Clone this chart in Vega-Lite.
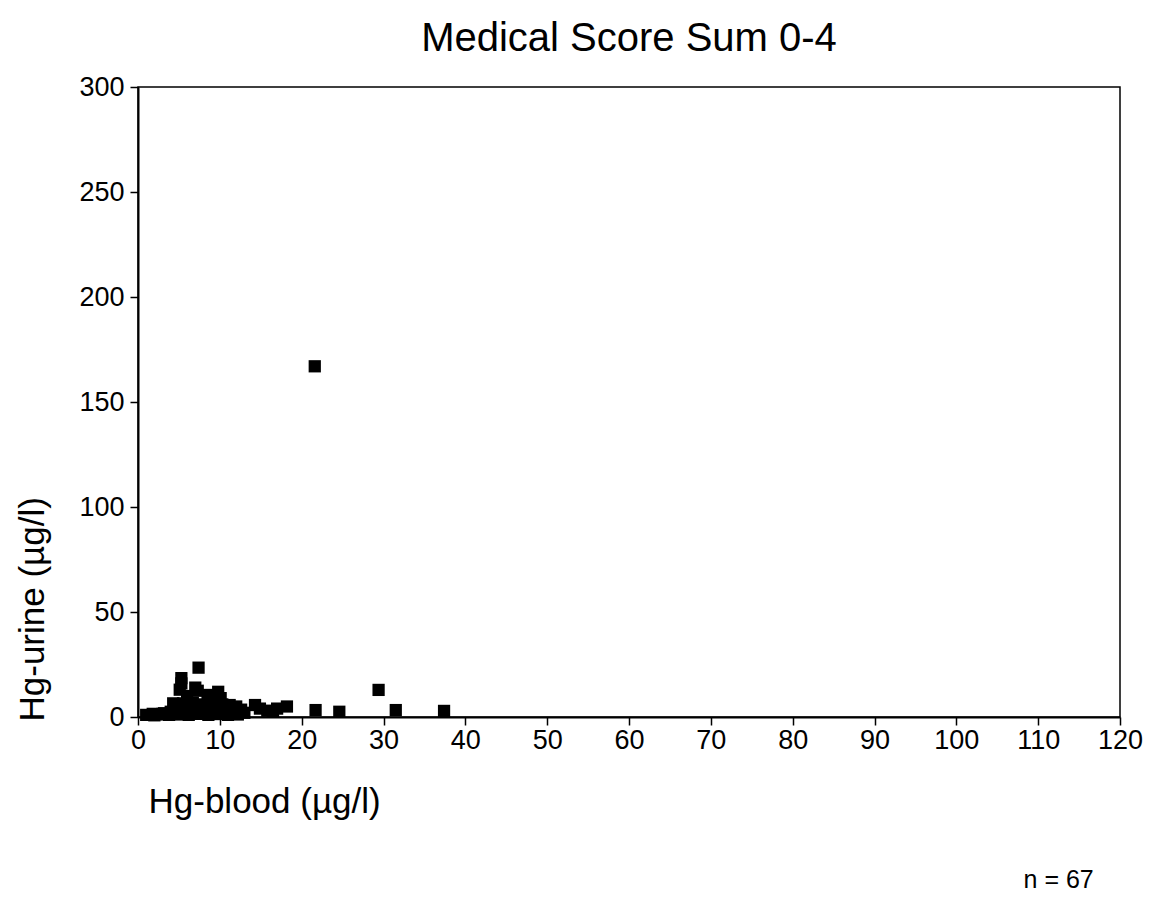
{
  "$schema": "https://vega.github.io/schema/vega-lite/v6.json",
  "width": 982,
  "height": 630,
  "autosize": "none",
  "padding": {"left": 138, "top": 87, "right": 39, "bottom": 203},
  "background": "white",
  "config": {
    "font": "Liberation Sans",
    "view": {"stroke": "black", "strokeWidth": 1.5},
    "axis": {"grid": false, "domainColor": "black", "domainWidth": 2, "tickColor": "black", "tickWidth": 1.5, "tickSize": 8, "labelColor": "black", "titleColor": "black", "labelFont": "Liberation Sans", "titleFont": "Liberation Sans", "titleFontWeight": "normal", "labelFlush": false}
  },
  "title": {"text": "Medical Score Sum 0-4", "fontSize": 40, "fontWeight": "normal", "font": "Liberation Sans", "color": "black", "anchor": "middle", "offset": 14},
  "layer": [
    {
      "data": {"values": [
        {"blood": 1.0, "urine": 1.0}, {"blood": 1.8, "urine": 1.5}, {"blood": 2.5, "urine": 1.2}, {"blood": 3.2, "urine": 1.8},
        {"blood": 3.8, "urine": 1.0}, {"blood": 4.5, "urine": 2.0}, {"blood": 5.0, "urine": 1.2}, {"blood": 5.6, "urine": 2.2},
        {"blood": 6.2, "urine": 1.0}, {"blood": 6.8, "urine": 2.0}, {"blood": 7.4, "urine": 1.5}, {"blood": 8.0, "urine": 2.4},
        {"blood": 8.6, "urine": 1.0}, {"blood": 9.2, "urine": 2.0}, {"blood": 9.8, "urine": 1.4}, {"blood": 10.4, "urine": 2.5},
        {"blood": 11.0, "urine": 1.0}, {"blood": 11.6, "urine": 1.8}, {"blood": 12.2, "urine": 1.2}, {"blood": 13.0, "urine": 2.0},
        {"blood": 4.3, "urine": 6.5}, {"blood": 4.9, "urine": 5.0}, {"blood": 5.5, "urine": 6.5}, {"blood": 6.1, "urine": 5.5},
        {"blood": 6.7, "urine": 6.8}, {"blood": 7.3, "urine": 5.2}, {"blood": 7.9, "urine": 6.0}, {"blood": 8.5, "urine": 5.0},
        {"blood": 9.1, "urine": 6.2}, {"blood": 9.7, "urine": 5.0}, {"blood": 10.3, "urine": 6.0}, {"blood": 11.2, "urine": 5.7},
        {"blood": 12.0, "urine": 5.0},
        {"blood": 5.3, "urine": 18.5}, {"blood": 5.3, "urine": 16.0}, {"blood": 5.1, "urine": 13.0}, {"blood": 7.4, "urine": 23.5},
        {"blood": 7.0, "urine": 14.0}, {"blood": 7.3, "urine": 12.5}, {"blood": 9.8, "urine": 12.0}, {"blood": 8.5, "urine": 10.5},
        {"blood": 10.1, "urine": 9.0}, {"blood": 6.0, "urine": 10.0}, {"blood": 9.0, "urine": 8.0},
        {"blood": 2.0, "urine": 0.8}, {"blood": 3.0, "urine": 1.5}, {"blood": 4.0, "urine": 2.5}, {"blood": 5.8, "urine": 3.5},
        {"blood": 6.5, "urine": 4.0}, {"blood": 7.6, "urine": 3.2}, {"blood": 8.3, "urine": 4.5}, {"blood": 9.5, "urine": 3.5},
        {"blood": 10.8, "urine": 3.0}, {"blood": 11.8, "urine": 2.0}, {"blood": 12.6, "urine": 3.5},
        {"blood": 14.3, "urine": 5.7}, {"blood": 14.9, "urine": 4.0}, {"blood": 15.8, "urine": 3.0}, {"blood": 16.5, "urine": 2.5},
        {"blood": 17.0, "urine": 4.0}, {"blood": 18.2, "urine": 5.0}, {"blood": 21.7, "urine": 3.3}, {"blood": 24.6, "urine": 2.5},
        {"blood": 29.4, "urine": 12.9}, {"blood": 31.5, "urine": 3.3}, {"blood": 37.4, "urine": 2.9}, {"blood": 21.6, "urine": 167.0}
      ]},
      "mark": {"type": "point", "shape": "square", "filled": true, "color": "black", "opacity": 1, "size": 150},
      "encoding": {
        "x": {"field": "blood", "type": "quantitative", "scale": {"domain": [0, 120], "nice": false},
          "axis": {"values": [0,10,20,30,40,50,60,70,80,90,100,110,120], "labelFontSize": 27, "labelPadding": 2,
            "title": "Hg-blood (µg/l)", "titleFontSize": 35, "titleAlign": "left", "titleAnchor": "start", "titleX": 10, "titleY": 84, "titleBaseline": "middle"}},
        "y": {"field": "urine", "type": "quantitative", "scale": {"domain": [0, 300], "nice": false},
          "axis": {"values": [0,50,100,150,200,250,300], "labelFontSize": 27, "labelPadding": 6,
            "title": "Hg-urine (µg/l)", "titleFontSize": 35, "titleAngle": 270, "titleAlign": "left", "titleBaseline": "middle", "titleX": -106, "titleY": 634}}
      }
    },
    {
      "data": {"values": [{"label": "n = 67"}]},
      "mark": {"type": "text", "fontSize": 25, "fontWeight": "normal", "font": "Liberation Sans", "color": "black", "align": "center", "baseline": "middle", "clip": false},
      "encoding": {
        "x": {"datum": 112.5, "type": "quantitative"},
        "y": {"datum": -77.5, "type": "quantitative"},
        "text": {"field": "label", "type": "nominal"}
      }
    }
  ]
}
